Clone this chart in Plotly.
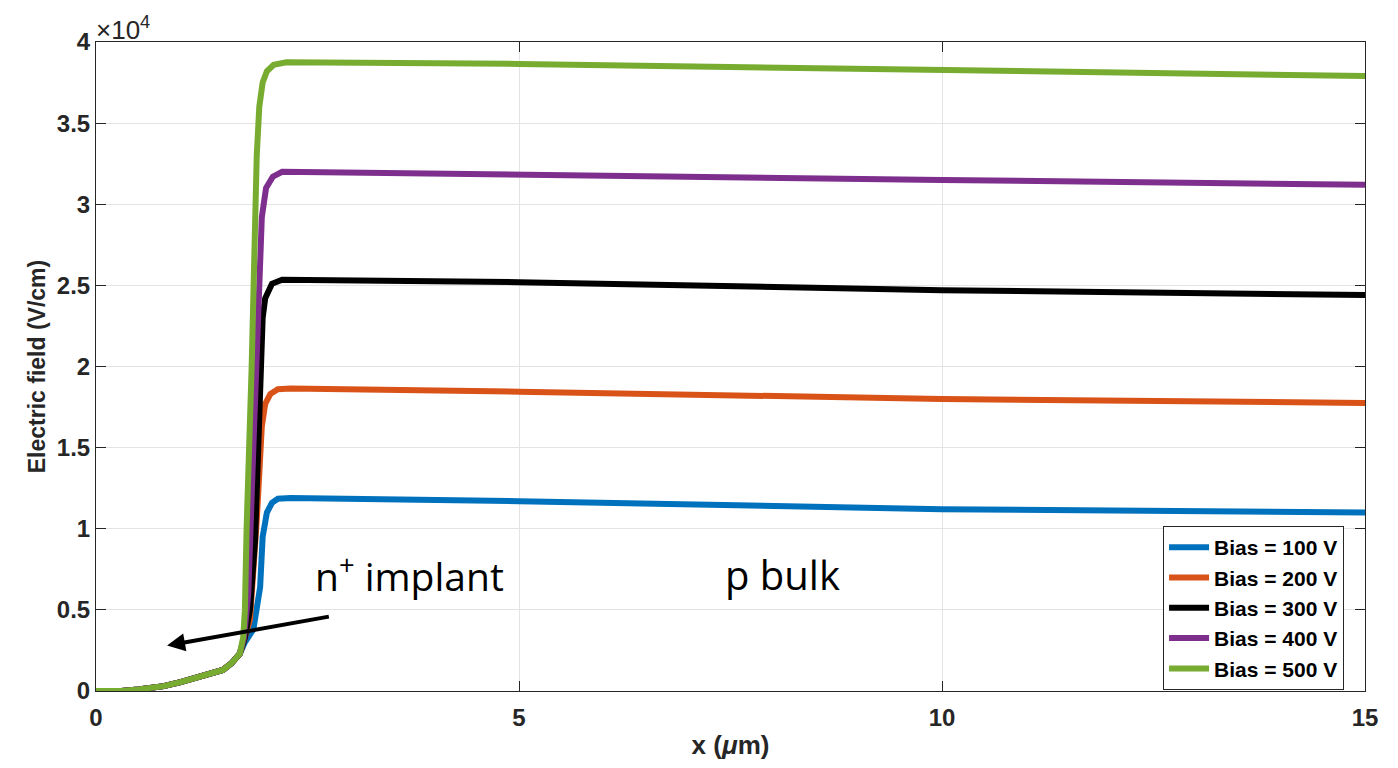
import plotly.graph_objects as go

# Shared low-field tail (x in um, E in 1e4 V/cm)
common_x = [0.0, 0.3, 0.5, 0.8, 1.0, 1.25, 1.5, 1.6, 1.7]
common_y = [0.0, 0.0, 0.01, 0.03, 0.055, 0.09, 0.13, 0.17, 0.23]

labels = ["Bias = 100 V", "Bias = 200 V", "Bias = 300 V", "Bias = 400 V", "Bias = 500 V"]
colors = ["#0072BD", "#D95319", "#000000", "#7E2F8E", "#77AC30"]

x100 = [1.76, 1.86, 1.94, 1.97, 2.02, 2.08, 2.15, 2.3, 5, 10, 15]
y100 = [0.30, 0.38, 0.64, 0.95, 1.10, 1.16, 1.185, 1.19, 1.17, 1.12, 1.10]

x200 = [1.76, 1.82, 1.90, 1.96, 2.00, 2.06, 2.15, 2.3, 5, 10, 15]
y200 = [0.33, 0.44, 1.05, 1.63, 1.77, 1.83, 1.86, 1.865, 1.845, 1.80, 1.775]

x300 = [1.76, 1.82, 1.88, 1.94, 1.97, 2.00, 2.08, 2.2, 5, 10, 15]
y300 = [0.33, 0.50, 0.93, 2.00, 2.30, 2.42, 2.51, 2.535, 2.52, 2.47, 2.44]

x400 = [1.75, 1.80, 1.86, 1.91, 1.96, 2.01, 2.09, 2.2, 5, 10, 15]
y400 = [0.33, 0.60, 1.50, 2.20, 2.92, 3.10, 3.17, 3.20, 3.185, 3.15, 3.12]

x500 = [1.74, 1.76, 1.78, 1.84, 1.90, 1.93, 1.97, 2.02, 2.1, 2.25, 5, 10, 15]
y500 = [0.33, 0.50, 1.00, 2.00, 3.30, 3.60, 3.75, 3.82, 3.86, 3.875, 3.865, 3.83, 3.79]

series_x = [x100, x200, x300, x400, x500]
series_y = [y100, y200, y300, y400, y500]

x_ticks = [0, 5, 10, 15]
y_ticks = [0, 0.5, 1, 1.5, 2, 2.5, 3, 3.5, 4]

fig = go.Figure()
for lab, col, xs, ys in zip(labels, colors, series_x, series_y):
    fig.add_trace(go.Scatter(
        x=common_x + xs, y=common_y + ys, mode="lines", name=lab,
        line=dict(color=col, width=6),
    ))

axis_common = dict(
    showline=True, linecolor="#262626", linewidth=1, mirror="ticks",
    ticks="inside", ticklen=10, tickcolor="#262626",
    showgrid=True, gridcolor="#e3e3e3", gridwidth=1, zeroline=False,
    tickfont=dict(family="Liberation Sans", size=24, color="#262626", weight="bold"),
)

fig.update_xaxes(range=[0, 15], tickvals=x_ticks, ticktext=[str(v) for v in x_ticks],
                 ticklabelstandoff=5,
                 title=dict(text="<b>x (<i>μ</i>m)</b>", font=dict(family="Liberation Sans", size=26, color="#262626"), standoff=6),
                 **axis_common)
fig.update_yaxes(range=[0, 4], tickvals=y_ticks, ticktext=[("%g" % v) for v in y_ticks],
                 title=dict(text="<b>Electric field (V/cm)</b>", font=dict(family="Liberation Sans", size=23, color="#262626"), standoff=4),
                 **axis_common)

fig.add_annotation(xref="paper", yref="paper", x=0.0, y=1.0, xanchor="left", yanchor="bottom",
                   text="×10<sup>4</sup>", showarrow=False, yshift=-5, xshift=-2,
                   font=dict(family="Liberation Sans", size=26, color="#262626"))

fig.add_annotation(x=0.84, y=0.28, ax=2.77, ay=0.46, xref="x", yref="y", axref="x", ayref="y",
                   text="", showarrow=True, arrowhead=2, arrowsize=0.9, arrowwidth=4, arrowcolor="black")
fig.add_annotation(x=3.71, y=0.72, xref="x", yref="y", xanchor="center", yanchor="middle",
                   text="n<sup>+</sup> implant", showarrow=False,
                   font=dict(family="Open Sans", size=39, color="black"))
fig.add_annotation(x=8.12, y=0.72, xref="x", yref="y", xanchor="center", yanchor="middle",
                   text="p bulk", showarrow=False,
                   font=dict(family="Open Sans", size=40, color="black"))

fig.update_layout(
    width=1398, height=768,
    margin=dict(l=96, r=33, t=42, b=77),
    paper_bgcolor="white", plot_bgcolor="white",
    showlegend=True,
    legend=dict(x=0.9835, y=0.0015, xanchor="right", yanchor="bottom",
                bgcolor="white", bordercolor="#262626", borderwidth=1,
                font=dict(family="Liberation Sans", size=21, color="black", weight="bold"),
                tracegroupgap=0, itemwidth=40),
)

fig.write_html("out.html")
